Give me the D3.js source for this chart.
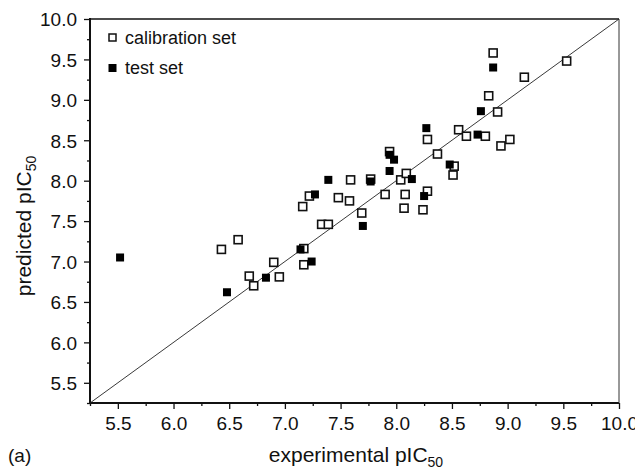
<!DOCTYPE html>
<html>
<head>
<meta charset="utf-8">
<script src="https://cdn.jsdelivr.net/npm/d3@7"></script>
<style>
  body { margin: 0; background: #fff; }
  svg { font-family: "Liberation Sans", Arial, sans-serif; }
</style>
</head>
<body>
<svg id="chart" width="635" height="469"></svg>
<script>
// calibration set (open squares): [experimental, predicted]
var calibration = [
  [6.43, 7.15], [6.58, 7.27], [6.68, 6.82], [6.72, 6.70], [6.90, 6.99], [6.95, 6.81],
  [7.17, 7.16], [7.17, 6.96], [7.16, 7.68], [7.22, 7.81], [7.33, 7.46], [7.39, 7.46],
  [7.48, 7.79], [7.58, 7.75], [7.59, 8.01], [7.69, 7.60], [7.77, 8.02], [7.90, 7.83],
  [7.94, 8.36], [8.04, 8.01], [8.09, 8.09], [8.08, 7.83], [8.07, 7.66], [8.24, 7.64],
  [8.28, 7.87], [8.28, 8.51], [8.37, 8.33], [8.52, 8.18], [8.51, 8.07], [8.56, 8.63],
  [8.63, 8.55], [8.80, 8.55], [8.94, 8.43], [9.02, 8.51], [8.83, 9.05], [8.91, 8.85],
  [8.87, 9.58], [9.15, 9.28], [9.53, 9.48]
];
// test set (filled squares)
var testSet = [
  [5.52, 7.05], [6.48, 6.62], [6.83, 6.80], [7.14, 7.15], [7.24, 7.00], [7.27, 7.83],
  [7.39, 8.01], [7.70, 7.44], [7.77, 7.99], [7.94, 8.32], [7.98, 8.26], [7.94, 8.12],
  [8.14, 8.02], [8.25, 7.81], [8.27, 8.65], [8.48, 8.20], [8.73, 8.57], [8.76, 8.86],
  [8.87, 9.40]
];
var majorTicks = [5.5, 6.0, 6.5, 7.0, 7.5, 8.0, 8.5, 9.0, 9.5, 10.0];
var minorTicks = [5.25, 5.75, 6.25, 6.75, 7.25, 7.75, 8.25, 8.75, 9.25, 9.75];
var axisRange = [5.25, 10];

var svg = d3.select("#chart");
var mLeft = 90, mRight = 619, mTop = 19, mBottom = 403;

var x = d3.scaleLinear().domain(axisRange).range([mLeft, mRight]);
var y = d3.scaleLinear().domain(axisRange).range([mBottom, mTop]);

//minor ticks first, then major ticks with labels
svg.append("g")
  .attr("transform", "translate(0," + mBottom + ")")
  .call(d3.axisBottom(x).tickValues(minorTicks).tickSize(3).tickFormat(""))
  .call(function(g) { g.select(".domain").remove(); });
svg.append("g")
  .attr("transform", "translate(" + mLeft + ",0)")
  .call(d3.axisLeft(y).tickValues(minorTicks).tickSize(3).tickFormat(""))
  .call(function(g) { g.select(".domain").remove(); });

var xAxis = svg.append("g")
  .attr("transform", "translate(0," + mBottom + ")")
  .call(d3.axisBottom(x).tickValues(majorTicks).tickSize(6).tickPadding(6).tickFormat(d3.format(".1f")));
xAxis.select(".domain").remove();

var yAxis = svg.append("g")
  .attr("transform", "translate(" + mLeft + ",0)")
  .call(d3.axisLeft(y).tickValues(majorTicks).tickSize(6).tickPadding(7).tickFormat(d3.format(".1f")));
yAxis.select(".domain").remove();

svg.selectAll(".tick text")
  .attr("font-size", 19)
  .attr("font-family", "Liberation Sans, Arial, sans-serif")
  .attr("fill", "#111");
svg.selectAll(".tick line").attr("stroke", "#111").attr("stroke-width", 1.3);
yAxis.selectAll(".tick text").attr("dy", "0.36em");
xAxis.selectAll(".tick text").attr("dy", "0.78em");

//frame
svg.append("line").attr("x1", mLeft).attr("x2", mLeft).attr("y1", mTop - 1).attr("y2", mBottom + 1)
  .attr("stroke", "#111").attr("stroke-width", 2);
svg.append("line").attr("x1", mLeft - 1).attr("x2", mRight).attr("y1", mBottom).attr("y2", mBottom)
  .attr("stroke", "#111").attr("stroke-width", 2);
svg.append("line").attr("x1", mLeft).attr("x2", mRight).attr("y1", mTop).attr("y2", mTop)
  .attr("stroke", "#111").attr("stroke-width", 1.6);
svg.append("line").attr("x1", mRight).attr("x2", mRight).attr("y1", mTop).attr("y2", mBottom)
  .attr("stroke", "#333").attr("stroke-width", 1);

//y = x line
svg.append("line")
  .attr("x1", x(axisRange[0])).attr("y1", y(axisRange[0]))
  .attr("x2", x(axisRange[1])).attr("y2", y(axisRange[1]))
  .attr("stroke", "#222").attr("stroke-width", 0.9);

var s = 8;
svg.append("g").selectAll("rect")
  .data(calibration)
  .enter()
  .append("rect")
  .attr("x", function(d) { return x(d[0]) - s / 2; })
  .attr("y", function(d) { return y(d[1]) - s / 2; })
  .attr("width", s).attr("height", s)
  .attr("fill", "#fff").attr("stroke", "#111").attr("stroke-width", 1.6);

svg.append("g").selectAll("rect")
  .data(testSet)
  .enter()
  .append("rect")
  .attr("x", function(d) { return x(d[0]) - s / 2; })
  .attr("y", function(d) { return y(d[1]) - s / 2; })
  .attr("width", s).attr("height", s)
  .attr("fill", "#000");

//legend
var legend = svg.append("g");
legend.append("rect").attr("x", 109).attr("y", 34).attr("width", 7).attr("height", 7)
  .attr("fill", "#fff").attr("stroke", "#111").attr("stroke-width", 1.5);
legend.append("text").attr("x", 125).attr("y", 44).attr("font-size", 18).attr("fill", "#111")
  .text("calibration set");
legend.append("rect").attr("x", 108.5).attr("y", 64).attr("width", 8).attr("height", 8)
  .attr("fill", "#000");
legend.append("text").attr("x", 125).attr("y", 74).attr("font-size", 18).attr("fill", "#111")
  .text("test set");

//axis titles
var xt = svg.append("text").attr("x", 356).attr("y", 462).attr("text-anchor", "middle")
  .attr("font-size", 21).attr("fill", "#111");
xt.append("tspan").text("experimental pIC");
xt.append("tspan").attr("font-size", 14).attr("dy", 5).text("50");

var yt = svg.append("text").attr("transform", "translate(31,226) rotate(-90)")
  .attr("text-anchor", "middle").attr("font-size", 21).attr("fill", "#111");
yt.append("tspan").text("predicted pIC");
yt.append("tspan").attr("font-size", 14).attr("dy", 5).text("50");

svg.append("text").attr("x", 8).attr("y", 462).attr("font-size", 19).attr("fill", "#111").text("(a)");
</script>
</body>
</html>
